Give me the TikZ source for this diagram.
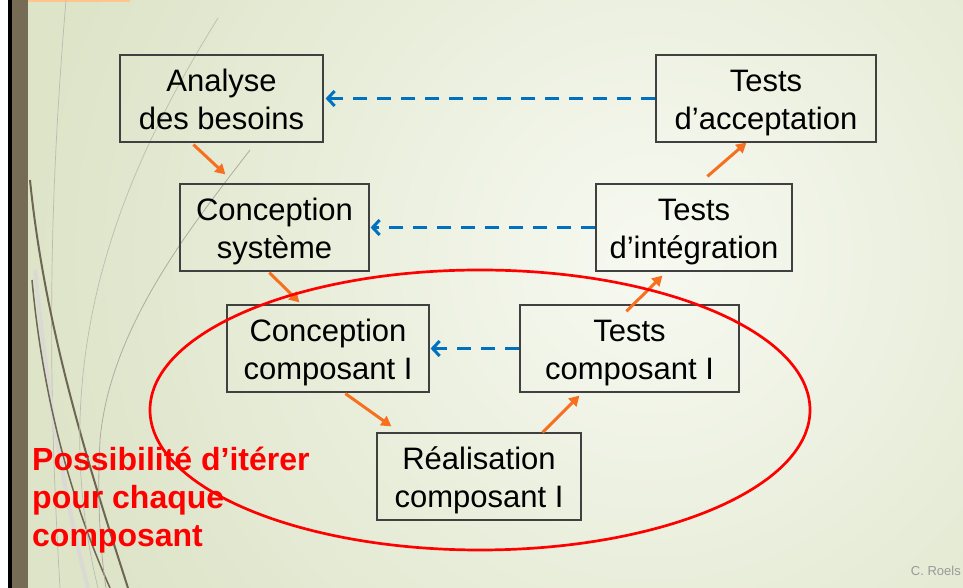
\documentclass[tikz,border=0pt]{standalone}
\usepackage{fontspec}
\setmainfont{Liberation Sans}
\usetikzlibrary{arrows.meta}

\definecolor{bgpale}{RGB}{247,249,241}
\definecolor{bgdark}{RGB}{221,228,200}
\definecolor{barbrown}{RGB}{118,107,85}
\definecolor{boxgray}{RGB}{64,64,64}
\definecolor{fwdorange}{RGB}{247,112,32}
\definecolor{backblue}{RGB}{0,112,192}
\definecolor{wisp}{RGB}{110,102,82}

% two lines of a box, with the same top and bottom in every box
\newcommand{\twolines}[2]{\rule{0pt}{30pt}#1\\#2\vphantom{p}}

\tikzstyle{process} = [
    rectangle,
    minimum height=87pt,
    inner xsep=4pt,
    draw=boxgray,
    line width=1.2pt,
    align=center,
    text=black,
    font=\fontsize{31}{38}\selectfont
]
\tikzstyle{arrow} = [
    line width=3pt,
    draw=fwdorange,
    -{Triangle[length=10pt,width=11pt]}
]
\tikzstyle{feedback} = [
    line width=3pt,
    draw=backblue,
    dash pattern=on 14pt off 10pt,
    -{Straight Barb[length=7pt,width=15pt]}
]
\tikzstyle{iteration} = [line width=2.7pt, draw=red]
\tikzstyle{note} = [
    text=red,
    align=left,
    inner sep=0pt,
    font=\bfseries\fontsize{32}{38}\selectfont
]

\begin{document}
\begin{tikzpicture}[x=1pt, y=1pt]

% slide
\useasboundingbox (0,0) rectangle (963,588);
\fill[white] (0,0) rectangle (963,588);
\fill[bgdark] (8,0) rectangle (963,588);
\begin{scope}
\clip (28,0) rectangle (963,588);
\shade[inner color=bgpale, outer color=bgdark] (650,330) circle (620);
\end{scope}
\fill[black] (8,0) rectangle (11.5,588);
\fill[barbrown] (11.5,0) rectangle (28,588);
\fill[orange!45] (28,586) rectangle (130,588);

% wisps
\draw[wisp!45, line width=0.7pt] (66,588) .. controls (52,420) and (45,250) .. (60,0);
\draw[wisp!25, line width=4pt] (35,318) .. controls (50,168) and (70,68) .. (88,0);
\draw[wisp, line width=2pt] (30,408) .. controls (45,258) and (90,118) .. (128,0);
\draw[wisp, line width=1.5pt] (32,308) .. controls (45,168) and (80,68) .. (110,0);
\draw[wisp!45, line width=0.7pt] (218,570) .. controls (150,460) and (85,330) .. (80,168) .. controls (78,100) and (88,40) .. (98,0);
\draw[wisp!55, line width=0.8pt] (250,438) .. controls (190,360) and (110,260) .. (100,148) .. controls (97,90) and (100,40) .. (106,0);

\node (analyse) [process, minimum width=203pt] at (221.5,489.5) {\twolines{Analyse}{des besoins}};
\node (csys) [process, minimum width=189pt, node distance=129pt, below of=analyse, xshift=53pt] {\twolines{Conception}{système}};
\node (ccomp) [process, minimum width=202pt, node distance=121pt, below of=csys, xshift=53.5pt] {\twolines{Conception}{composant I}};
\node (real) [process, minimum width=204pt, node distance=128pt, below of=ccomp, xshift=151pt] {\twolines{Réalisation}{composant I}};
\node (tcomp) [process, minimum width=219pt, node distance=301.5pt, right of=ccomp] {\twolines{Tests}{composant I}};
\node (tint) [process, minimum width=196pt, node distance=121pt, above of=tcomp, xshift=64.5pt] {\twolines{Tests}{d’intégration}};
\node (tacc) [process, minimum width=220pt, node distance=129pt, above of=tint, xshift=72pt] {\twolines{Tests}{d’acceptation}};

\draw [arrow] ([xshift=74pt,yshift=-2pt]analyse.south west) -- ([xshift=46pt,yshift=9pt]csys.north west);
\draw [arrow] ([xshift=90pt,yshift=-1pt]csys.south west) -- ([xshift=73pt,yshift=2pt]ccomp.north west);
\draw [arrow] ([xshift=119pt,yshift=-1pt]ccomp.south west) -- ([xshift=15pt,yshift=6pt]real.north west);
\draw [arrow] ([xshift=-39pt]real.north east) -- ([xshift=60pt,yshift=-3pt]tcomp.south west);
\draw [arrow] ([xshift=107pt,yshift=-7pt]tcomp.north west) -- ([xshift=67pt,yshift=-4pt]tint.south west);
\draw [arrow] ([xshift=112pt,yshift=7pt]tint.north west) -- ([xshift=91pt]tacc.south west);

\draw [feedback, shorten >=2pt] (tacc.west) -- (analyse.east);
\draw [feedback, shorten >=1pt] (tint.west) -- (csys.east);
\draw [feedback, shorten >=1pt] (tcomp.west) -- (ccomp.east);

\draw [iteration] (480,178) ellipse [x radius=330, y radius=140];

\node (iterer) [note, anchor=north west] at (32,141) {Possibilité d’itérer\\pour chaque\\composant};
\node (auteur) [anchor=base east, inner sep=0pt, text=black!40, font=\fontsize{13}{15}\selectfont] at (961,12) {C. Roels};

\end{tikzpicture}
\end{document}
